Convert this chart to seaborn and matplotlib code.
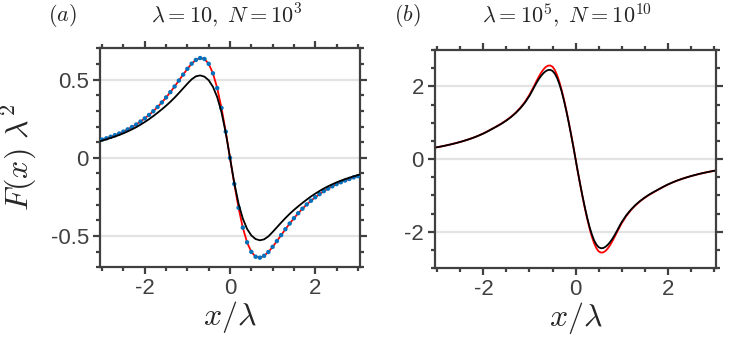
import numpy as np
import pandas as pd
import seaborn as sns
import matplotlib
matplotlib.use("Agg")
import matplotlib.pyplot as plt
from matplotlib.ticker import MultipleLocator

# sample positions x/lambda, panel (a)
x_a = [-3.1, -3.0, -2.9, -2.8, -2.7, -2.6, -2.5, -2.4, -2.3, -2.2, -2.1,
       -2.0, -1.9, -1.8, -1.7, -1.6, -1.5, -1.4, -1.3, -1.2, -1.1,
       -1.0, -0.9, -0.8, -0.7, -0.6, -0.5, -0.4, -0.3, -0.2, -0.1,
       0.0, 0.1, 0.2, 0.3, 0.4, 0.5, 0.6, 0.7, 0.8, 0.9,
       1.0, 1.1, 1.2, 1.3, 1.4, 1.5, 1.6, 1.7, 1.8, 1.9,
       2.0, 2.1, 2.2, 2.3, 2.4, 2.5, 2.6, 2.7, 2.8, 2.9, 3.0, 3.1]

# panel (a): lambda = 10, N = 10^3
a_red = [0.109, 0.117, 0.125, 0.135, 0.145, 0.156, 0.168, 0.182, 0.197, 0.213, 0.232,
         0.252, 0.274, 0.298, 0.325, 0.354, 0.386, 0.420, 0.456, 0.494, 0.532,
         0.569, 0.602, 0.626, 0.638, 0.632, 0.601, 0.540, 0.446, 0.319, 0.167,
         0.0, -0.167, -0.319, -0.446, -0.540, -0.601, -0.632, -0.638, -0.626, -0.602,
         -0.569, -0.532, -0.494, -0.456, -0.420, -0.386, -0.354, -0.325, -0.298, -0.274,
         -0.252, -0.232, -0.213, -0.197, -0.182, -0.168, -0.156, -0.145, -0.135, -0.125,
         -0.117, -0.109]
a_black = [0.103, 0.110, 0.118, 0.127, 0.136, 0.146, 0.157, 0.169, 0.182, 0.196, 0.212,
           0.229, 0.247, 0.267, 0.288, 0.310, 0.333, 0.358, 0.385, 0.414, 0.444,
           0.474, 0.502, 0.521, 0.527, 0.519, 0.496, 0.454, 0.388, 0.292, 0.160,
           0.0, -0.160, -0.292, -0.388, -0.454, -0.496, -0.519, -0.527, -0.521, -0.502,
           -0.474, -0.444, -0.414, -0.385, -0.358, -0.333, -0.310, -0.288, -0.267, -0.247,
           -0.229, -0.212, -0.196, -0.182, -0.169, -0.157, -0.146, -0.136, -0.127, -0.118,
           -0.110, -0.103]

# sample positions x/lambda, panel (b) (finer near the peaks)
x_b = [-3.1, -3.0, -2.9, -2.8, -2.7, -2.6, -2.5, -2.4, -2.3, -2.2, -2.1,
       -2.0, -1.9, -1.8, -1.7, -1.6, -1.5, -1.4, -1.3, -1.2, -1.1,
       -1.0, -0.95, -0.9, -0.85, -0.8, -0.75, -0.7, -0.65, -0.6, -0.55,
       -0.5, -0.45, -0.4, -0.35, -0.3, -0.25, -0.2, -0.15, -0.1, -0.05,
       0.0, 0.05, 0.1, 0.15, 0.2, 0.25, 0.3, 0.35, 0.4, 0.45,
       0.5, 0.55, 0.6, 0.65, 0.7, 0.75, 0.8, 0.85, 0.9, 0.95, 1.0,
       1.1, 1.2, 1.3, 1.4, 1.5, 1.6, 1.7, 1.8, 1.9, 2.0,
       2.1, 2.2, 2.3, 2.4, 2.5, 2.6, 2.7, 2.8, 2.9, 3.0, 3.1]

# panel (b): lambda = 10^5, N = 10^10
b_red = [0.304, 0.326, 0.350, 0.377, 0.406, 0.438, 0.472, 0.510, 0.551, 0.597, 0.648,
         0.705, 0.770, 0.840, 0.910, 0.985, 1.070, 1.165, 1.275, 1.410, 1.570,
         1.77, 1.89, 2.01, 2.14, 2.26, 2.37, 2.46, 2.53, 2.57, 2.575,
         2.54, 2.45, 2.31, 2.12, 1.89, 1.63, 1.34, 1.03, 0.70, 0.36,
         0.0, -0.36, -0.70, -1.03, -1.34, -1.63, -1.89, -2.12, -2.31, -2.45,
         -2.54, -2.575, -2.57, -2.53, -2.46, -2.37, -2.26, -2.14, -2.01, -1.89, -1.77,
         -1.570, -1.410, -1.275, -1.165, -1.070, -0.985, -0.910, -0.840, -0.770, -0.705,
         -0.648, -0.597, -0.551, -0.510, -0.472, -0.438, -0.406, -0.377, -0.350, -0.326, -0.304]
b_black = [0.304, 0.326, 0.350, 0.377, 0.405, 0.437, 0.471, 0.509, 0.550, 0.595, 0.646,
           0.702, 0.766, 0.835, 0.904, 0.977, 1.060, 1.155, 1.265, 1.395, 1.550,
           1.740, 1.855, 1.975, 2.090, 2.195, 2.285, 2.360, 2.415, 2.450, 2.455,
           2.425, 2.350, 2.230, 2.060, 1.850, 1.600, 1.320, 1.015, 0.690, 0.355,
           0.0, -0.355, -0.690, -1.015, -1.320, -1.600, -1.850, -2.060, -2.230, -2.350,
           -2.425, -2.455, -2.450, -2.415, -2.360, -2.285, -2.195, -2.090, -1.975, -1.855, -1.740,
           -1.550, -1.395, -1.265, -1.155, -1.060, -0.977, -0.904, -0.835, -0.766, -0.702,
           -0.646, -0.595, -0.550, -0.509, -0.471, -0.437, -0.405, -0.377, -0.350, -0.326, -0.304]

df_a = pd.DataFrame({"x": x_a, "red": a_red, "black": a_black})
df_b = pd.DataFrame({"x": x_b, "red": b_red, "black": b_black})
dots_a = df_a[df_a["x"].abs() <= 3.0]

sns.set_theme(style="white")
plt.rcParams["font.family"] = ["Liberation Sans", "DejaVu Sans"]
plt.rcParams["mathtext.fontset"] = "cm"
plt.rcParams["axes.unicode_minus"] = False

grey = "#404040"
fig = plt.figure(figsize=(7.48, 3.38), dpi=100)
ax1 = fig.add_axes([0.1337, 0.209, 0.3476, 0.648])
ax2 = fig.add_axes([0.5816, 0.207, 0.3757, 0.645])

# panel a
sns.lineplot(data=df_a, x="x", y="red", color="#ff0000", lw=1.3, sort=False, estimator=None, ax=ax1)
sns.scatterplot(data=dots_a, x="x", y="red", color="#0072bd", s=10, edgecolor="none", ax=ax1, zorder=3)
sns.lineplot(data=df_a, x="x", y="black", color="black", lw=1.3, sort=False, estimator=None, ax=ax1, zorder=4)
ax1.set_ylim(-0.7, 0.7)
ax1.set_yticks([-0.5, 0, 0.5], labels=["-0.5", "0", "0.5"])
ax1.yaxis.set_minor_locator(MultipleLocator(0.1))

# panel b
sns.lineplot(data=df_b, x="x", y="red", color="#ff0000", lw=1.3, sort=False, estimator=None, ax=ax2)
sns.lineplot(data=df_b, x="x", y="black", color="black", lw=1.3, sort=False, estimator=None, ax=ax2)
ax2.set_ylim(-3, 3)
ax2.set_yticks([-2, 0, 2], labels=["-2", "0", "2"])
ax2.yaxis.set_minor_locator(MultipleLocator(0.5))

for ax in (ax1, ax2):
    ax.set_xlim(-3.05, 3.05)
    ax.set_xticks([-2, 0, 2], labels=["-2", "0", "2"])
    ax.xaxis.set_minor_locator(MultipleLocator(0.5))
    ax.yaxis.grid(True, which="major", color="#e3e3e3", lw=1.6)
    ax.set_axisbelow(True)
    for s in ax.spines.values():
        s.set_visible(True)
        s.set_color(grey)
        s.set_linewidth(1.6)
    ax.tick_params(which="both", direction="out", top=True, right=True,
                   bottom=True, left=True, color=grey, width=1.6,
                   labelsize=16, labelcolor=grey)
    ax.tick_params(which="major", length=5, pad=3)
    ax.tick_params(which="minor", length=3)
    ax.set_xlabel(r"$x/\lambda$", fontsize=23, labelpad=0)
    ax.set_ylabel("")

ax1.set_ylabel(r"$F(x)\ \lambda^2$", fontsize=23)
ax1.yaxis.set_label_coords(-0.235, 0.5)

ax1.text(0.49, 1.15, r"$\lambda = 10,\ N = 10^3$", transform=ax1.transAxes,
         ha="center", va="center", fontsize=16)
ax1.text(-0.145, 1.15, r"$(a)$", transform=ax1.transAxes, ha="center", va="center", fontsize=16)
ax2.text(0.47, 1.16, r"$\lambda = 10^5,\ N = 10^{10}$", transform=ax2.transAxes,
         ha="center", va="center", fontsize=16)
ax2.text(-0.10, 1.16, r"$(b)$", transform=ax2.transAxes, ha="center", va="center", fontsize=16)

fig.savefig("out.png", dpi=100)
